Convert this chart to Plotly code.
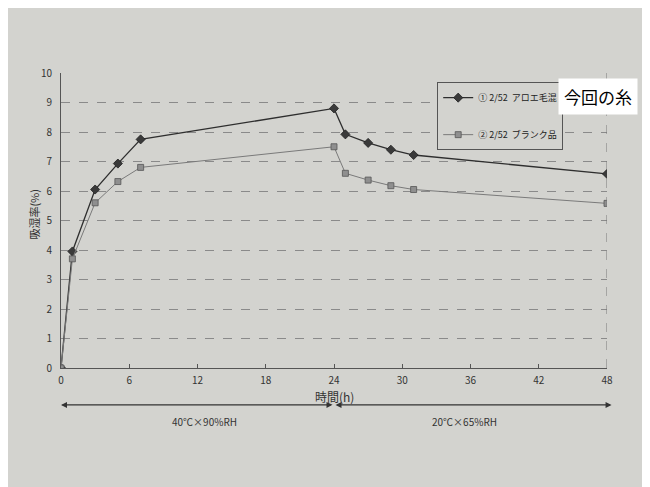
import plotly.graph_objects as go

hours = [0, 1, 3, 5, 7, 24, 25, 27, 29, 31, 48]
aloe = [0, 3.95, 6.05, 6.93, 7.75, 8.8, 7.92, 7.63, 7.4, 7.22, 6.58]
blank = [0, 3.7, 5.6, 6.32, 6.8, 7.5, 6.6, 6.37, 6.18, 6.05, 5.58]
names = ["\u2460 2/52  アロエ毛混", "\u2461 2/52  ブランク品"]
x_ticks = [0, 6, 12, 18, 24, 30, 36, 42, 48]
y_ticks = list(range(0, 11))
cond_labels = ["40\u2103\u00d790%RH", "20\u2103\u00d765%RH"]

FONT = "Noto Sans CJK JP, Noto Sans, sans-serif"
BG = "#d3d3cf"

fig = go.Figure()
fig.add_trace(go.Scatter(
    x=hours, y=aloe, name=names[0], mode="lines+markers",
    line=dict(color="#2e2e2e", width=1.3),
    marker=dict(symbol="diamond", size=7, color="#3a3a3a", line=dict(color="#222", width=0.8)),
    legendgroup="a"))
fig.add_trace(go.Scatter(
    x=hours, y=blank, name=names[1], mode="lines+markers",
    line=dict(color="#7a7a7a", width=1),
    marker=dict(symbol="square", size=6, color="#8f8f8f", line=dict(color="#555", width=0.8)),
    legendgroup="b"))

shapes = [
    dict(type="line", xref="x", yref="y", x0=48, x1=48, y0=0, y1=10,
         line=dict(color="#777", width=1, dash="dash")),
]
annotations = [
    dict(text="今回の糸", xref="paper", yref="paper", x=0.983, y=0.919,
         xanchor="center", yanchor="middle",
         showarrow=False, font=dict(family=FONT, size=17, color="black"),
         bgcolor="white", borderpad=5),
    dict(text="吸湿率(%)", xref="paper", yref="paper", x=0, y=0.52, xshift=-27,
         xanchor="center", yanchor="middle", textangle=-90, showarrow=False,
         font=dict(family=FONT, size=11, color="#333")),
    dict(text="時間(h)", xref="x", yref="paper", x=24, y=-0.098, showarrow=False,
         xanchor="center", yanchor="middle",
         font=dict(family=FONT, size=12, color="#333")),
    dict(text="", xref="x", yref="paper", x=0, y=-0.125, ax=24, ay=0,
         axref="x", ayref="pixel", showarrow=True, arrowhead=2, arrowside="end+start",
         arrowsize=1, arrowwidth=1.2, arrowcolor="#333"),
    dict(text="", xref="x", yref="paper", x=48.4, y=-0.125, ax=24, ay=0,
         axref="x", ayref="pixel", showarrow=True, arrowhead=2, arrowside="end+start",
         arrowsize=1, arrowwidth=1.2, arrowcolor="#333"),
    dict(text=cond_labels[0], xref="x", yref="paper", x=12.6, y=-0.18, showarrow=False,
         xanchor="center", yanchor="middle",
         font=dict(family=FONT, size=10, color="#333")),
    dict(text=cond_labels[1], xref="x", yref="paper", x=35.5, y=-0.18, showarrow=False,
         xanchor="center", yanchor="middle",
         font=dict(family=FONT, size=10, color="#333")),
]

fig.update_layout(
    width=650, height=487,
    margin=dict(l=53, r=51, t=65, b=127, autoexpand=False),
    paper_bgcolor=BG, plot_bgcolor=BG,
    font=dict(family=FONT, size=10, color="#333"),
    showlegend=True,
    legend=dict(x=0.689, y=0.969, xanchor="left", yanchor="top",
                bgcolor=BG, bordercolor="#555", borderwidth=1,
                tracegroupgap=18, font=dict(family=FONT, size=9, color="#222"),
                itemwidth=30),
    shapes=shapes, annotations=annotations,
    xaxis=dict(range=[0, 48], tickvals=x_ticks, showgrid=False, zeroline=False,
               showline=True, linecolor="#555", linewidth=1, ticks="inside",
               ticklen=4, tickcolor="#555", ticklabelstandoff=3,
               tickfont=dict(size=10, color="#333")),
    yaxis=dict(range=[0, 10], tickvals=y_ticks, showgrid=True, gridcolor="#8a8a8a",
               griddash="dash", gridwidth=1, zeroline=False, showline=True,
               linecolor="#555", linewidth=1, ticks="", ticklabelstandoff=6,
               tickfont=dict(size=10, color="#333")),
)

fig.write_html("out.html")
